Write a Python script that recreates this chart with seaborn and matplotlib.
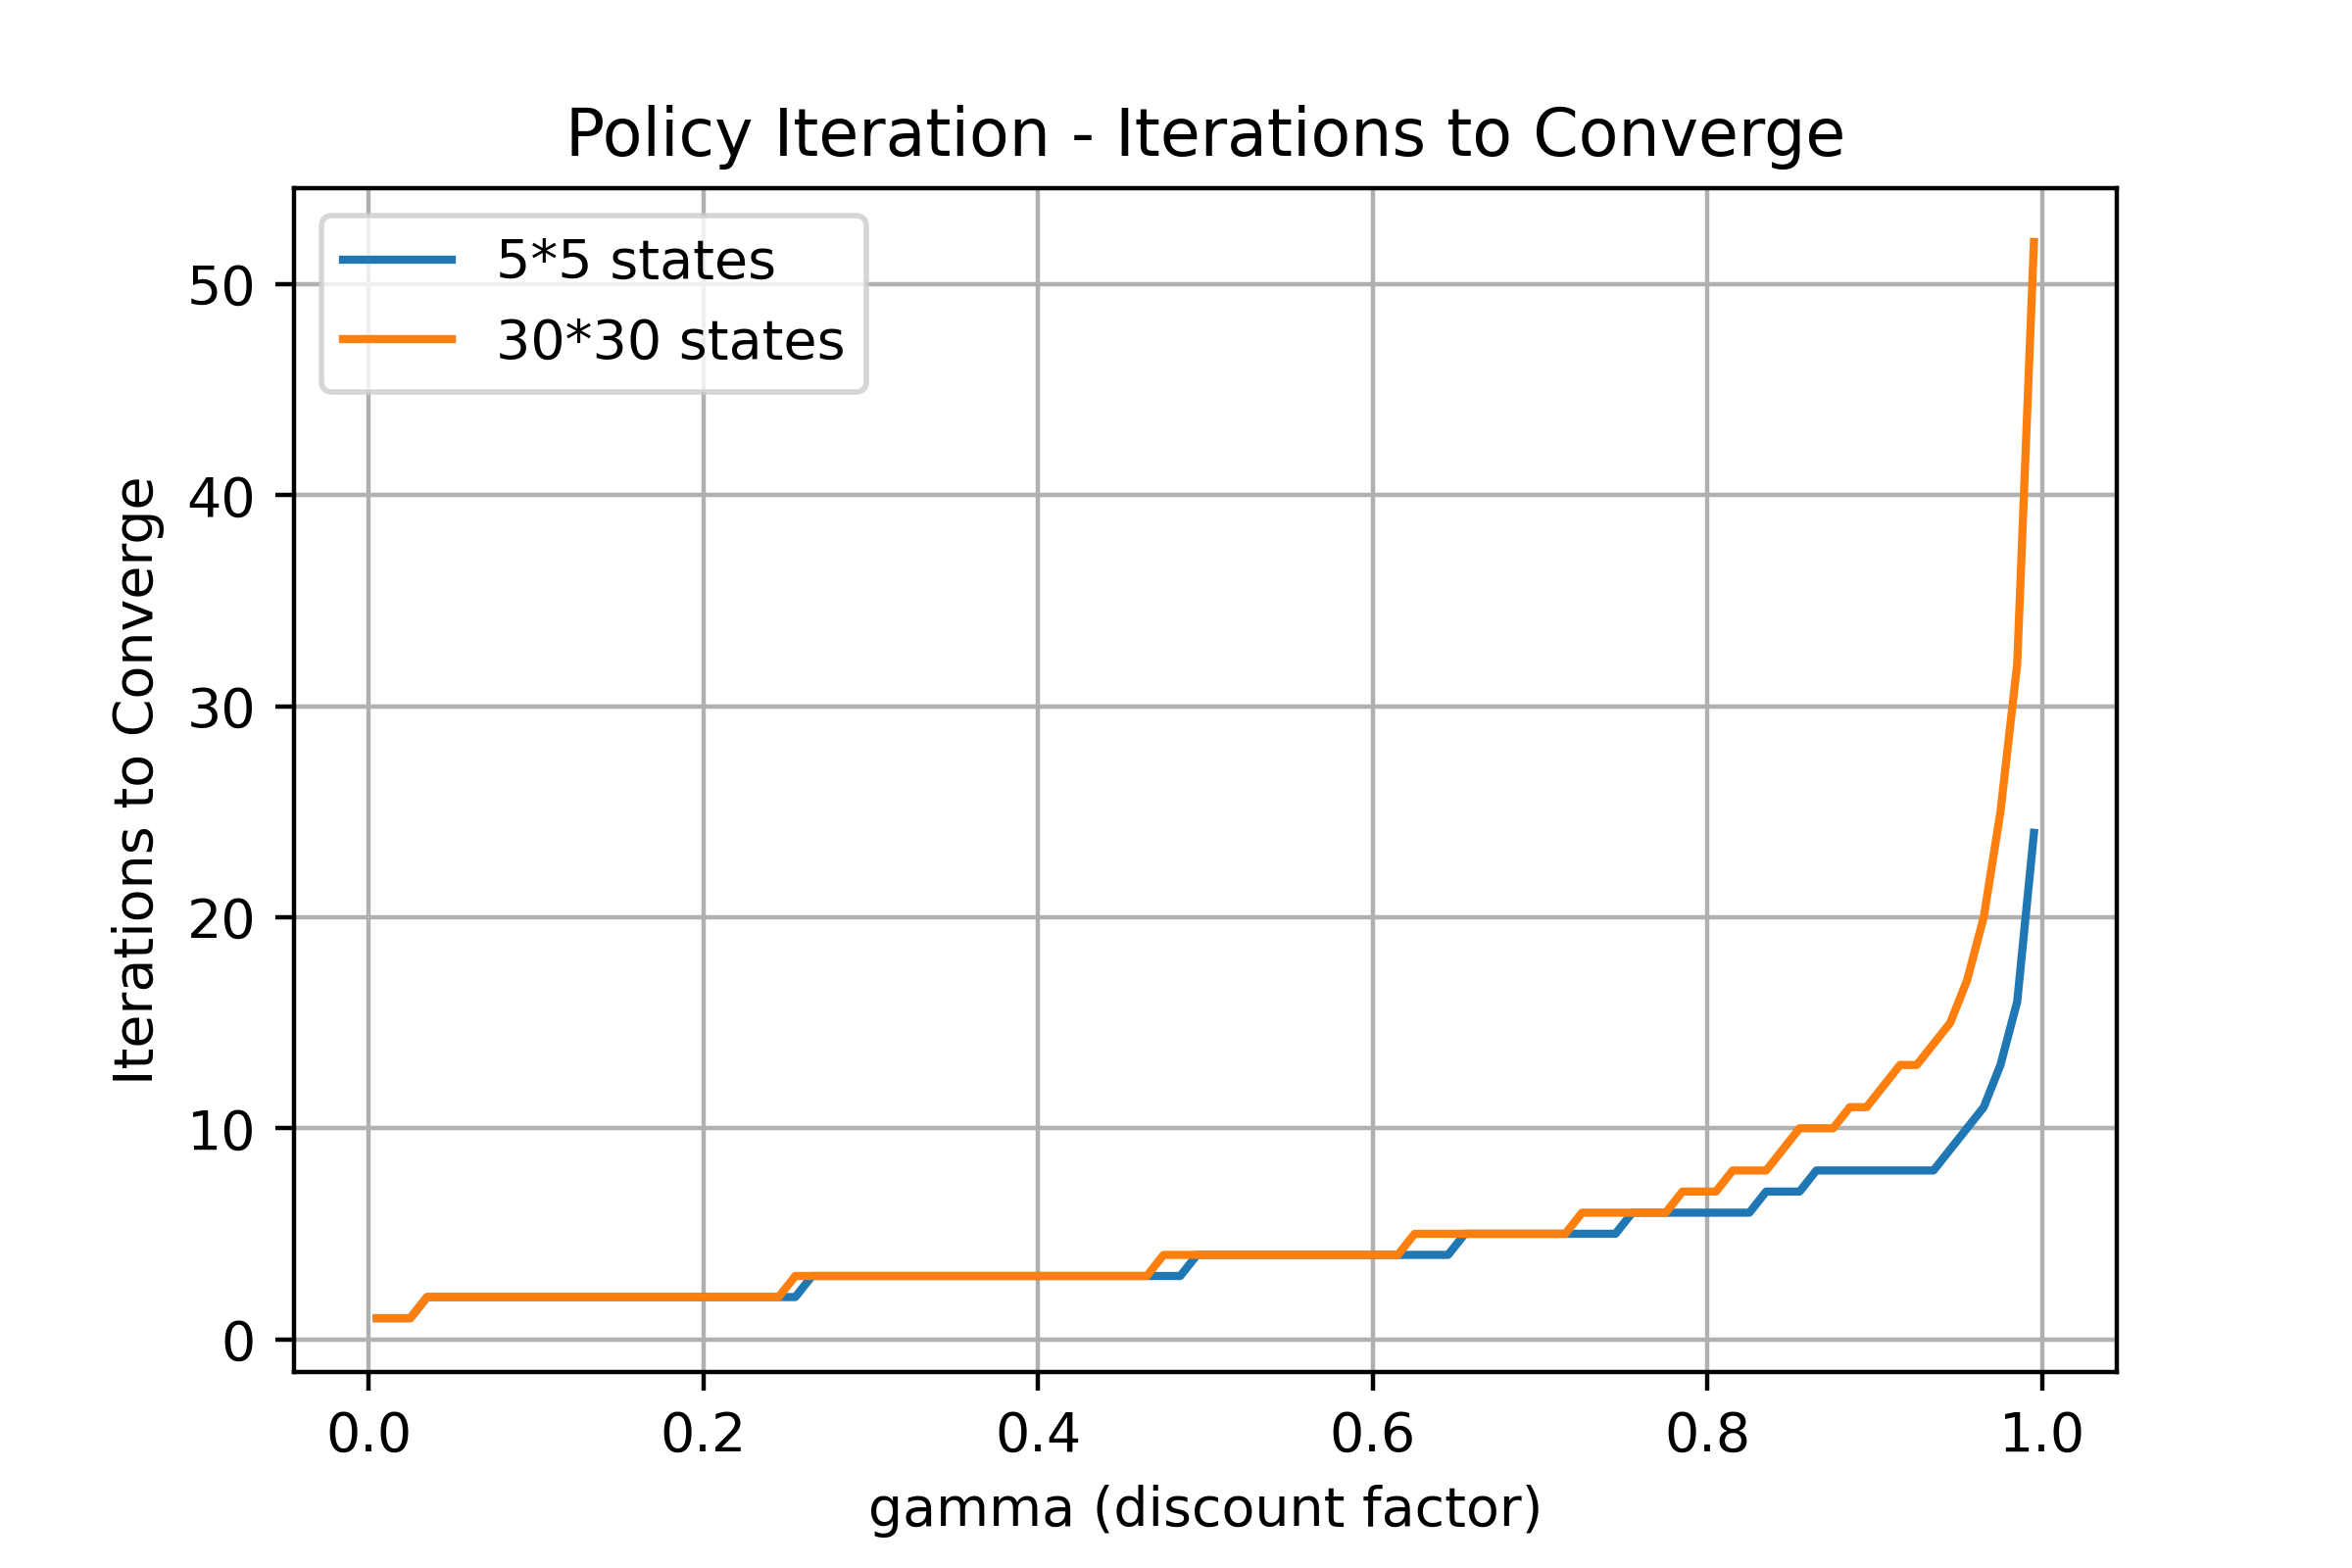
import numpy as np
import pandas as pd
import matplotlib
matplotlib.use("Agg")
import matplotlib.pyplot as plt
import seaborn as sns

# Valores de gamma (fator de desconto) usados no experimento
gamma = np.round(np.linspace(0.005, 0.995, 100), 3)

# Iteracoes ate convergir - grade 5*5
iters_5x5 = [
    1, 1, 1, 2, 2, 2, 2, 2, 2, 2,
    2, 2, 2, 2, 2, 2, 2, 2, 2, 2,
    2, 2, 2, 2, 2, 2, 3, 3, 3, 3,
    3, 3, 3, 3, 3, 3, 3, 3, 3, 3,
    3, 3, 3, 3, 3, 3, 3, 3, 3, 4,
    4, 4, 4, 4, 4, 4, 4, 4, 4, 4,
    4, 4, 4, 4, 4, 5, 5, 5, 5, 5,
    5, 5, 5, 5, 5, 6, 6, 6, 6, 6,
    6, 6, 6, 7, 7, 7, 8, 8, 8, 8,
    8, 8, 8, 8, 9, 10, 11, 13, 16, 24,
]

# Iteracoes ate convergir - grade 30*30
iters_30x30 = [
    1, 1, 1, 2, 2, 2, 2, 2, 2, 2,
    2, 2, 2, 2, 2, 2, 2, 2, 2, 2,
    2, 2, 2, 2, 2, 3, 3, 3, 3, 3,
    3, 3, 3, 3, 3, 3, 3, 3, 3, 3,
    3, 3, 3, 3, 3, 3, 3, 4, 4, 4,
    4, 4, 4, 4, 4, 4, 4, 4, 4, 4,
    4, 4, 5, 5, 5, 5, 5, 5, 5, 5,
    5, 5, 6, 6, 6, 6, 6, 6, 7, 7,
    7, 8, 8, 8, 9, 10, 10, 10, 11, 11,
    12, 13, 13, 14, 15, 17, 20, 25, 32, 52,
]

labels = ["5*5 states", "30*30 states"]
colors = ["tab:blue", "tab:orange"]

df = pd.DataFrame({"gamma": gamma, labels[0]: iters_5x5, labels[1]: iters_30x30})

fig, ax = plt.subplots(figsize=(6, 4), dpi=400)
fig.subplots_adjust(bottom=0.125)

for label, color in zip(labels, colors):
    sns.lineplot(data=df, x="gamma", y=label, color=color, label=label, ax=ax)

ax.set_title("Policy Iteration - Iterations to Converge")
ax.set_xlabel("gamma (discount factor)")
ax.set_ylabel("Iterations to Converge")
ax.grid(True)
ax.legend(loc="upper left")

plt.savefig("out.png", dpi=400)
plt.close()
